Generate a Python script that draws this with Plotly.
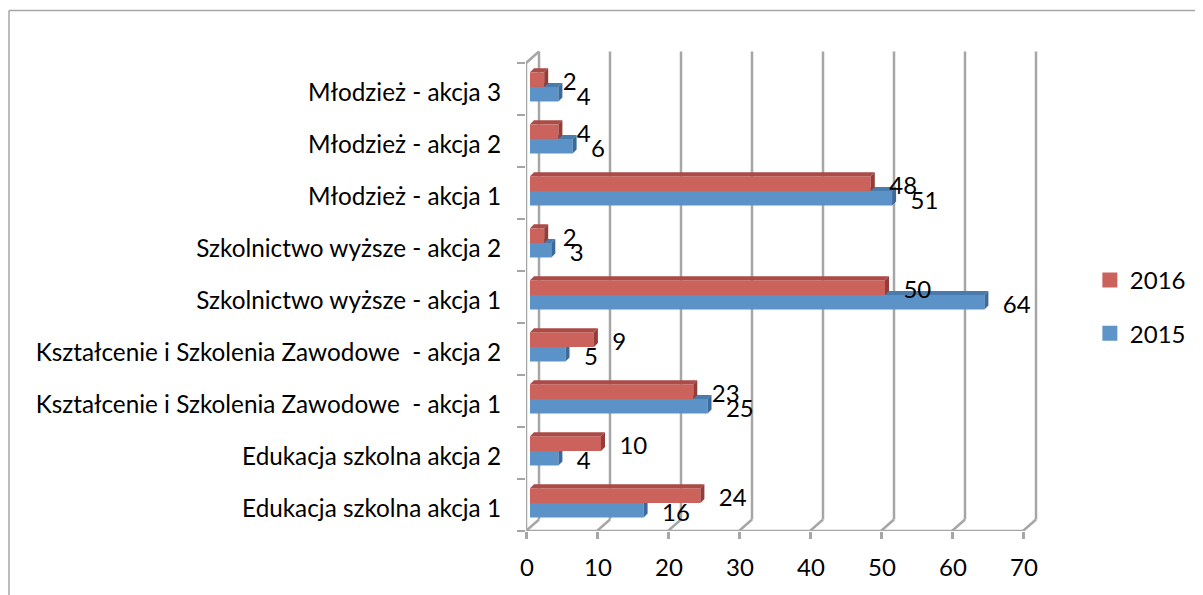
import plotly.graph_objects as go

categories = ["Edukacja szkolna akcja 1", "Edukacja szkolna akcja 2",
              "Kształcenie i Szkolenia Zawodowe \u00a0- akcja 1",
              "Kształcenie i Szkolenia Zawodowe \u00a0- akcja 2",
              "Szkolnictwo wyższe - akcja 1", "Szkolnictwo wyższe - akcja 2",
              "Młodzież - akcja 1", "Młodzież - akcja 2", "Młodzież - akcja 3"]
values_2015 = [16, 4, 25, 5, 64, 3, 51, 6, 4]
values_2016 = [24, 10, 23, 9, 50, 2, 48, 4, 2]
x_ticks = [0, 10, 20, 30, 40, 50, 60, 70]

FONT = "Lato"
FONT_SIZE = 24
GREY = "#A6A6A6"

# the page puts the figure 8px in from its corner, so sizes are counted from there
page = 8
fig_w, fig_h = 1203 - page, 595 - page
left, right, top, bottom = 526 - page, 1040 - page, 45 - page, 531 - page
px_x = 7.1   # pixels per unit on the value axis
px_y = 52    # pixels per category
x_range = [0, (right - left) / px_x]
y_range = [-0.5, (bottom - top) / px_y - 0.5]

wall_dx, wall_dy = 13 / px_x, 11.5 / px_y   # offset of the back wall
bar_dx, bar_dy = 4 / px_x, 4 / px_y         # depth of a bar
bar_height = 0.28
pos = list(range(len(categories)))


def faces(values, y_low):
    # top and side face of each bar, on the value and category axes
    tx, ty, sx, sy = [], [], [], []
    for i, v in zip(pos, values):
        y0 = i + y_low
        y1 = y0 + bar_height
        end = bar_dx + v
        tx += [bar_dx, end, end + bar_dx, bar_dx + bar_dx, bar_dx, None]
        ty += [y1, y1, y1 + bar_dy, y1 + bar_dy, y1, None]
        sx += [end, end + bar_dx, end + bar_dx, end, end, None]
        sy += [y0, y0 + bar_dy, y1 + bar_dy, y1, y0, None]
    return tx, ty, sx, sy


def add_series(fig, values, y_low, front, upper, dark, label_y, xa, ya):
    tx, ty, sx, sy = faces(values, y_low)
    fig.add_trace(go.Bar(x=values, y=pos, base=bar_dx, orientation="h", width=bar_height, offset=y_low,
                         marker=dict(color=front, line_width=0), showlegend=False, xaxis=xa, yaxis=ya))
    fig.add_trace(go.Scatter(x=tx, y=ty, mode="lines", fill="toself", fillcolor=upper, line=dict(width=0),
                             showlegend=False, hoverinfo="skip", xaxis=xa, yaxis=ya))
    fig.add_trace(go.Scatter(x=sx, y=sy, mode="lines", fill="toself", fillcolor=dark, line=dict(width=0),
                             showlegend=False, hoverinfo="skip", xaxis=xa, yaxis=ya))
    fig.add_trace(go.Scatter(x=[bar_dx + v + 2.6 for v in values], y=[i + label_y for i in pos],
                             mode="text", text=[str(v) for v in values], textposition="middle right",
                             textfont=dict(family=FONT, size=FONT_SIZE, color="#000000"),
                             showlegend=False, hoverinfo="skip", xaxis="x3", yaxis="y3"))


fig = go.Figure()

# legend entries, 2016 first as in the original
fig.add_trace(go.Scatter(x=[None], y=[None], mode="markers", name="2016", legendgroup="a",
                         marker=dict(symbol="square", size=15, color="#CC625C")))
fig.add_trace(go.Scatter(x=[None], y=[None], mode="markers", name="2015", legendgroup="b",
                         marker=dict(symbol="square", size=15, color="#5F94C9")))

add_series(fig, values_2015, -0.24, "#5B93C9", "#4A7BAD", "#3B6A9B", -0.195, "x", "y")
add_series(fig, values_2016, 0.04, "#CC625C", "#AA4B47", "#963C38", 0.09, "x2", "y2")

shapes = []
line = dict(color=GREY, width=2.5)
y_lo, y_hi = -0.5, len(categories) - 0.5
for t in x_ticks:
    # back wall line and floor line
    shapes.append(dict(type="line", xref="x", yref="y", x0=t + wall_dx, x1=t + wall_dx, y0=y_lo + wall_dy,
                       y1=y_hi + wall_dy, line=line, layer="below"))
    shapes.append(dict(type="line", xref="x", yref="y", x0=t, x1=t + wall_dx, y0=y_lo, y1=y_lo + wall_dy,
                       line=line, layer="below"))
shapes.append(dict(type="line", xref="x", yref="y", x0=0, x1=wall_dx, y0=y_hi, y1=y_hi + wall_dy, line=line, layer="below"))
shapes.append(dict(type="line", xref="x", yref="y", x0=0, x1=0, y0=y_lo, y1=y_hi, line=line, layer="below"))
shapes.append(dict(type="line", xref="x", yref="y", x0=0, x1=x_ticks[-1], y0=y_lo, y1=y_lo, line=line, layer="below"))

# outer frame, cut by the page on the right and bottom
w, h = right - left, bottom - top
frame_x = (9 - page - left) / w
frame_y = (bottom - (10.5 - page)) / h
shapes.append(dict(type="line", xref="paper", yref="paper", x0=frame_x, x1=(fig_w - left) / w,
                   y0=frame_y, y1=frame_y, line=dict(color=GREY, width=1.5)))
shapes.append(dict(type="line", xref="paper", yref="paper", x0=frame_x, x1=frame_x,
                   y0=frame_y, y1=(bottom - fig_h) / h, line=dict(color=GREY, width=1.5)))

hidden = dict(visible=False, fixedrange=True)
fig.update_layout(
    width=fig_w, height=fig_h,
    margin=dict(l=left, r=fig_w - right, t=top, b=fig_h - bottom, pad=0),
    paper_bgcolor="#FFFFFF", plot_bgcolor="#FFFFFF",
    barmode="overlay",
    font=dict(family=FONT, size=FONT_SIZE, color="#000000"),
    shapes=shapes,
    xaxis=dict(range=x_range, tickvals=x_ticks, showgrid=False, zeroline=False, showline=False,
               ticks="outside", ticklen=7, tickwidth=2.5, tickcolor=GREY, ticklabelstandoff=8, ticklabelshift=1,
               tickfont=dict(family=FONT, size=FONT_SIZE)),
    yaxis=dict(range=y_range, tickvals=pos, ticktext=categories, showgrid=False, zeroline=False, showline=False,
               ticks="", ticklabelstandoff=24, ticklabelshift=3, tickfont=dict(family=FONT, size=24.3),
               minor=dict(tickvals=[i - 0.5 for i in pos] + [y_hi], ticks="outside", ticklen=8,
                          tickwidth=2, tickcolor=GREY, showgrid=False)),
    xaxis2=dict(range=x_range, overlaying="x", **hidden),
    yaxis2=dict(range=y_range, overlaying="y", **hidden),
    xaxis3=dict(range=x_range, overlaying="x", **hidden),
    yaxis3=dict(range=y_range, overlaying="y", **hidden),
    legend=dict(x=1.097, y=0.562, xanchor="left", yanchor="top", tracegroupgap=19, traceorder="grouped",
                font=dict(family=FONT, size=FONT_SIZE), bgcolor="rgba(0,0,0,0)", itemclick=False),
    showlegend=True,
)

fig.write_html("out.html")
